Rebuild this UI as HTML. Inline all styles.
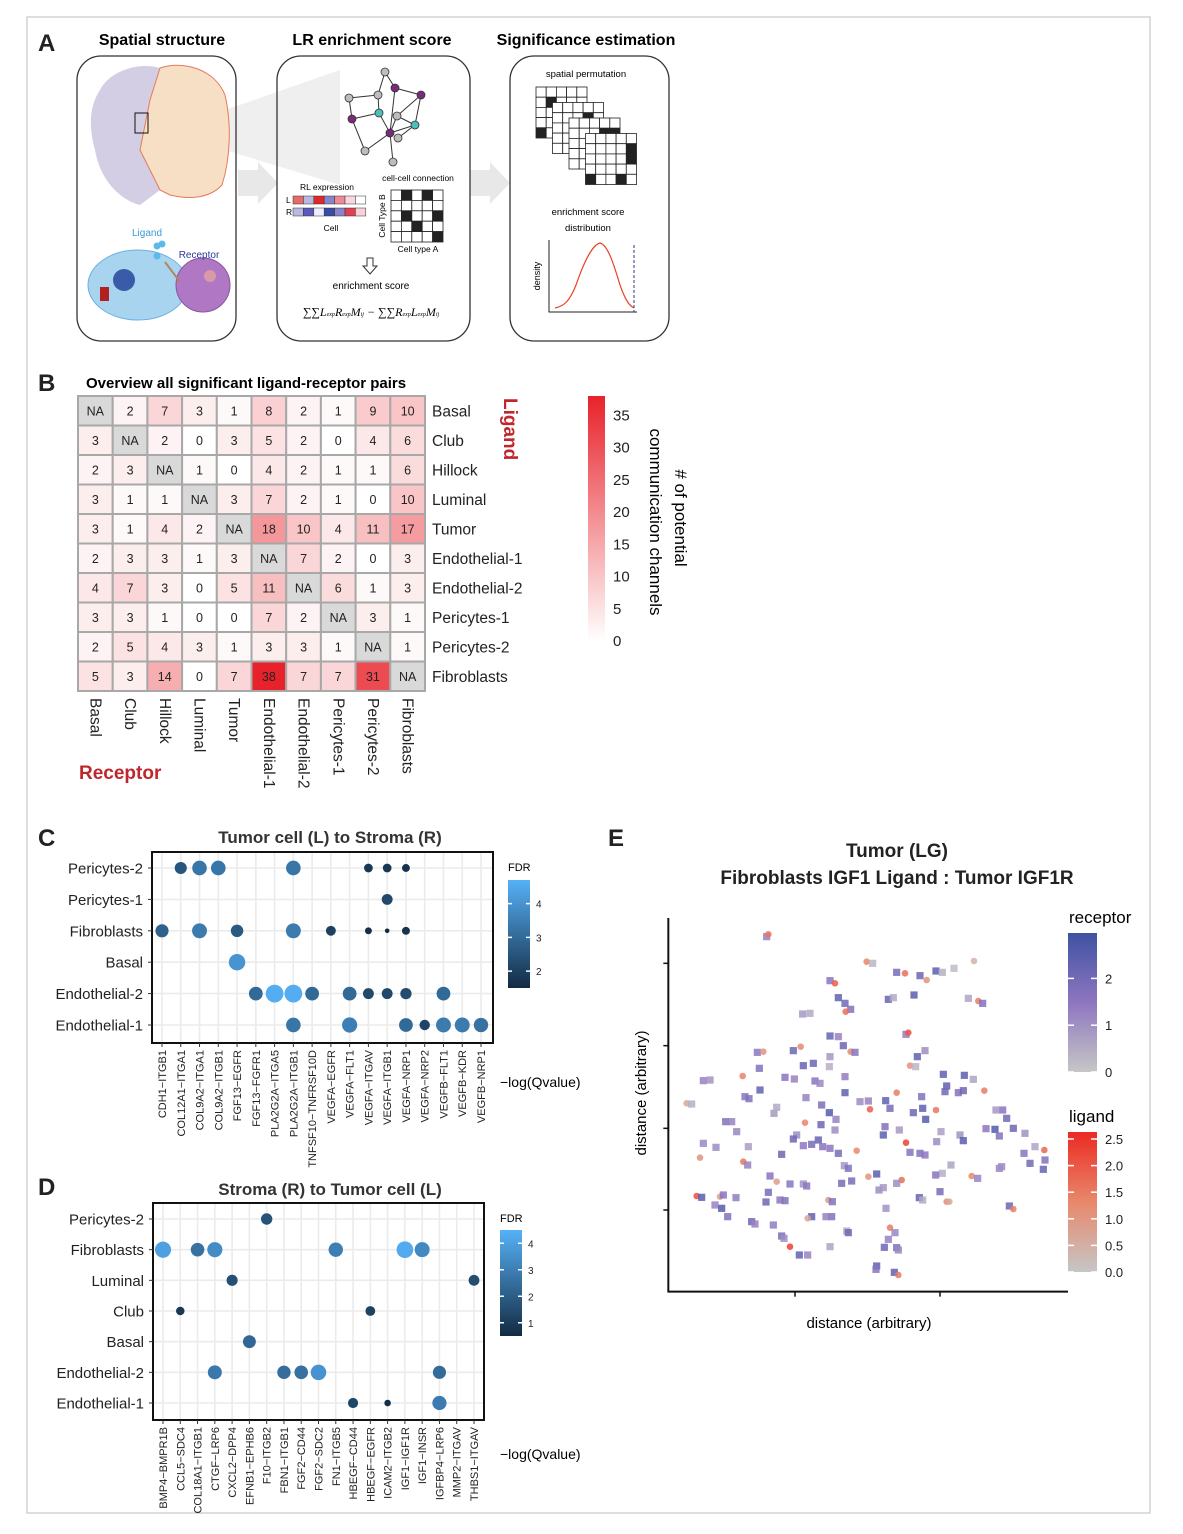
<!DOCTYPE html>
<html><head><meta charset="utf-8">
<style>
html,body{margin:0;padding:0;background:#fff;}
svg{display:block;font-family:"Liberation Sans",sans-serif;}
</style></head>
<body>
<svg id="fig" width="1183" height="1534" viewBox="0 0 1183 1534" xmlns="http://www.w3.org/2000/svg">
<defs>
<linearGradient id="heatGrad" x1="0" y1="1" x2="0" y2="0"><stop offset="0" stop-color="#ffffff"/><stop offset="1" stop-color="#e8222a"/></linearGradient>
<linearGradient id="fdrGrad" x1="0" y1="1" x2="0" y2="0"><stop offset="0" stop-color="#132b43"/><stop offset="1" stop-color="#56b1f7"/></linearGradient>
<linearGradient id="recGrad" x1="0" y1="1" x2="0" y2="0"><stop offset="0" stop-color="#c6c6c6"/><stop offset="0.5" stop-color="#8e76c0"/><stop offset="1" stop-color="#3e52a2"/></linearGradient>
<linearGradient id="ligGrad" x1="0" y1="1" x2="0" y2="0"><stop offset="0" stop-color="#c6c6c6"/><stop offset="0.5" stop-color="#e8886c"/><stop offset="1" stop-color="#ec2a22"/></linearGradient>
</defs>
<rect x="27" y="17" width="1123" height="1496" fill="none" stroke="#bdbdbd" stroke-width="1"/>

<!-- Panel A -->
<g>
<text x="38" y="51" font-size="24" font-weight="bold" fill="#222">A</text>
<text x="162" y="45" font-size="16" font-weight="bold" text-anchor="middle">Spatial structure</text>
<text x="372" y="45" font-size="16" font-weight="bold" text-anchor="middle">LR enrichment score</text>
<text x="586" y="45" font-size="16" font-weight="bold" text-anchor="middle">Significance estimation</text>
<polygon points="225,110 340,70 340,185 225,150" fill="#efefef"/>
<polygon points="238,170 258,170 258,162 278,183 258,204 258,196 238,196" fill="#e8e8e8"/>
<polygon points="470,170 490,170 490,162 510,183 490,204 490,196 470,196" fill="#e8e8e8"/>
<rect x="77" y="56" width="159" height="285" rx="24" fill="none" stroke="#333" stroke-width="1.3"/>
<rect x="277" y="56" width="193" height="285" rx="24" fill="none" stroke="#333" stroke-width="1.3"/>
<rect x="510" y="56" width="159" height="285" rx="24" fill="none" stroke="#333" stroke-width="1.3"/>
<path d="M100,90 C110,70 140,62 160,68 L150,100 L140,150 L160,190 L140,205 C120,200 100,180 95,150 C88,125 90,105 100,90 Z" fill="#c9c2dd" opacity="0.8"/>
<path d="M160,68 C185,60 215,70 225,95 C232,125 230,160 222,185 C210,198 190,200 170,195 L160,190 L140,150 L150,100 Z" fill="#f6dfc4" stroke="#e6795a" stroke-width="1"/>
<rect x="135" y="113" width="13" height="20" fill="none" stroke="#111" stroke-width="1"/>
<ellipse cx="138" cy="285" rx="50" ry="35" fill="#a8d4f0" stroke="#6ab0e0"/>
<circle cx="124" cy="280" r="11" fill="#3a5ba8"/>
<rect x="100" y="287" width="9" height="14" fill="#b32020"/>
<circle cx="157" cy="246" r="3.5" fill="#5bbbe8"/>
<circle cx="162" cy="244" r="3.5" fill="#5bbbe8"/>
<circle cx="157" cy="256" r="3.5" fill="#5bbbe8"/>
<circle cx="203" cy="285" r="27" fill="#b078c4" stroke="#8a559e"/>
<circle cx="210" cy="276" r="6" fill="#d89aa8"/>
<line x1="165" y1="262" x2="180" y2="282" stroke="#b08860" stroke-width="2"/>
<text x="147" y="236" font-size="10" fill="#3a9ad6" text-anchor="middle">Ligand</text>
<text x="199" y="258" font-size="10" fill="#2d3a98" text-anchor="middle">Receptor</text>
<g id="network"></g>
<text x="327" y="190" font-size="8.5" text-anchor="middle">RL expression</text>
<text x="286" y="203" font-size="8.5">L</text>
<text x="286" y="215" font-size="8.5">R</text>
<g id="rlbars"></g>
<text x="331" y="231" font-size="8.5" text-anchor="middle">Cell</text>
<text x="418" y="181" font-size="8.5" text-anchor="middle">cell-cell connection</text>
<text transform="translate(385,216) rotate(-90)" font-size="8.5" text-anchor="middle">Cell Type B</text>
<g id="conngrid"></g>
<text x="418" y="252" font-size="8.5" text-anchor="middle">Cell type A</text>
<path d="M367,258 L373,258 L373,266 L377,266 L370,274 L363,266 L367,266 Z" fill="#fff" stroke="#333"/>
<text x="371" y="289" font-size="10" text-anchor="middle">enrichment score</text>
<text x="371" y="316" font-size="12" font-family="Liberation Serif,serif" font-style="italic" text-anchor="middle">∑∑L<tspan font-size="6">exp</tspan>R<tspan font-size="6">exp</tspan>M<tspan font-size="6">ij</tspan> − ∑∑R<tspan font-size="6">exp</tspan>L<tspan font-size="6">exp</tspan>M<tspan font-size="6">ij</tspan></text>
<text x="586" y="77" font-size="9.5" text-anchor="middle">spatial permutation</text>
<g id="permgrids"></g>
<text x="588" y="215" font-size="9.5" text-anchor="middle">enrichment score</text>
<text x="588" y="231" font-size="9.5" text-anchor="middle">distribution</text>
<polyline points="549,240 549,312 637,312" fill="none" stroke="#222" stroke-width="1"/>
<text transform="translate(540,276) rotate(-90)" font-size="9" text-anchor="middle">density</text>
<path d="M555,308 C565,306 570,300 576,285 C584,262 592,245 600,243 C608,245 614,265 620,285 C626,302 630,306 634,308" fill="none" stroke="#e8442a" stroke-width="1.2"/>
<line x1="634" y1="245" x2="634" y2="312" stroke="#2d3a7a" stroke-dasharray="3,2"/>
</g>

<!-- Panel B -->
<g id="panelB">
<text x="38" y="391" font-size="24" font-weight="bold" fill="#222">B</text>
<text x="86" y="388" font-size="15" font-weight="bold">Overview all significant ligand-receptor pairs</text>
<text transform="translate(504,398) rotate(90)" font-size="19" font-weight="bold" fill="#c0272d">Ligand</text>
<text x="79" y="779" font-size="19" font-weight="bold" fill="#c0272d">Receptor</text>
<rect x="588" y="396" width="17" height="245" fill="url(#heatGrad)"/>
<g id="heatLegendTicks"></g>
<text transform="translate(675,518) rotate(90)" font-size="17" text-anchor="middle"># of potential</text>
<text transform="translate(650,522) rotate(90)" font-size="17" text-anchor="middle">communication channels</text>
</g>

<!-- Panel C -->
<g id="panelC">
<text x="38" y="846" font-size="24" font-weight="bold" fill="#222">C</text>
<text x="330" y="843" font-size="17" font-weight="bold" text-anchor="middle" fill="#333">Tumor cell (L) to Stroma (R)</text>
<text x="508" y="871" font-size="11">FDR</text>
<rect x="508" y="880" width="22" height="108" fill="url(#fdrGrad)"/>
<text x="500" y="1087" font-size="14">−log(Qvalue)</text>
</g>

<!-- Panel D -->
<g id="panelD">
<text x="38" y="1195" font-size="24" font-weight="bold" fill="#222">D</text>
<text x="330" y="1195" font-size="17" font-weight="bold" text-anchor="middle" fill="#333">Stroma (R) to Tumor cell (L)</text>
<text x="500" y="1222" font-size="11">FDR</text>
<rect x="500" y="1230" width="22" height="106" fill="url(#fdrGrad)"/>
<text x="500" y="1459" font-size="14">−log(Qvalue)</text>
</g>

<!-- Panel E -->
<g id="panelE">
<text x="608" y="846" font-size="24" font-weight="bold" fill="#222">E</text>
<text x="897" y="857" font-size="19" font-weight="bold" text-anchor="middle" fill="#222">Tumor (LG)</text>
<text x="897" y="884" font-size="19" font-weight="bold" text-anchor="middle" fill="#222">Fibroblasts IGF1 Ligand : Tumor IGF1R</text>
<text transform="translate(646,1093) rotate(-90)" font-size="15" text-anchor="middle">distance (arbitrary)</text>
<text x="869" y="1328" font-size="15" text-anchor="middle">distance (arbitrary)</text>
<text x="1069" y="923" font-size="17">receptor</text>
<rect x="1068" y="933" width="29" height="139" fill="url(#recGrad)"/>
<text x="1069" y="1122" font-size="17">ligand</text>
<rect x="1068" y="1132" width="29" height="140" fill="url(#ligGrad)"/>
</g>
</svg>

<script>
const NS = "http://www.w3.org/2000/svg";
function mk(tag, attrs, parent){const e=document.createElementNS(NS,tag);for(const k in attrs)e.setAttribute(k,attrs[k]);parent.appendChild(e);return e;}

/* ---------- Panel A decorative bits ---------- */
const netNodes=[[385,72,'g'],[378,95,'g'],[395,88,'p'],[421,95,'p'],[349,98,'g'],[397,116,'g'],[352,119,'p'],[379,113,'c'],[415,125,'c'],[398,138,'g'],[390,133,'p'],[365,151,'g'],[393,162,'g']];
const netEdges=[[0,1],[0,2],[1,4],[1,7],[2,3],[2,10],[3,8],[4,6],[6,7],[6,11],[7,10],[5,8],[5,10],[8,10],[10,11],[10,12],[9,8],[3,5]];
const net=document.getElementById('network');
netEdges.forEach(e=>{const l=mk('line',{x1:netNodes[e[0]][0],y1:netNodes[e[0]][1],x2:netNodes[e[1]][0],y2:netNodes[e[1]][1],stroke:'#333','stroke-width':1},net);

});
const nodeCol={g:'#bdbdbd',p:'#7a2a7a',c:'#4cc0bc'};
netNodes.forEach(n=>{const c=mk('circle',{cx:n[0],cy:n[1],r:4,fill:nodeCol[n[2]],stroke:'#333','stroke-width':0.8},net);

});
const lCols=['#e86a6a','#b8b8e0','#e02828','#8a84c8','#ee8a96','#f8d8dc','#fff'];
const rCols=['#b8b8e0','#5a5ab8','#eeeeff','#3a4aa8','#8a84c8','#e04050','#f8d0d8'];
const rl=document.getElementById('rlbars');
lCols.forEach((c,i)=>{const r=mk('rect',{x:293+i*10.4,y:196,width:10.4,height:8,fill:c,stroke:'#333','stroke-width':0.5},rl);

});
rCols.forEach((c,i)=>{const r=mk('rect',{x:293+i*10.4,y:208,width:10.4,height:8,fill:c,stroke:'#333','stroke-width':0.5},rl);

});
const connFill=[[0,1,0,1,0],[0,0,0,0,0],[0,1,0,0,1],[0,0,1,0,0],[0,0,0,0,1]];
const cg=document.getElementById('conngrid');
connFill.forEach((row,ri)=>row.forEach((v,ci)=>{const r=mk('rect',{x:391+ci*10.4,y:190+ri*10.4,width:10.4,height:10.4,fill:v?'#222':'#fff',stroke:'#222','stroke-width':0.8},cg);

}));
const permFills=[[[0,0,0,0,0],[0,1,0,0,0],[0,0,0,0,0],[0,0,0,0,0],[1,0,0,0,0]],[[0,0,0,0,0],[0,0,0,1,0],[0,0,0,0,0],[0,0,0,0,0],[0,0,0,0,0]],[[0,0,0,0,0],[0,0,0,1,1],[0,0,0,0,0],[0,0,0,0,0],[0,0,0,0,0]],[[0,0,0,0,0],[0,0,0,0,1],[0,0,0,0,1],[0,0,0,0,0],[1,0,0,1,0]]];
const pg=document.getElementById('permgrids');
permFills.forEach((g,gi)=>{const ox=536+gi*16.5, oy=87+gi*15.5;
g.forEach((row,ri)=>row.forEach((v,ci)=>{const r=mk('rect',{x:ox+ci*10.2,y:oy+ri*10.2,width:10.2,height:10.2,fill:v?'#222':'#fff',stroke:'#222','stroke-width':0.8},pg);

}));});

/* ---------- Panel B heatmap ---------- */
const hmRows=['Basal','Club','Hillock','Luminal','Tumor','Endothelial-1','Endothelial-2','Pericytes-1','Pericytes-2','Fibroblasts'];
const hmCols=['Basal','Club','Hillock','Luminal','Tumor','Endothelial-1','Endothelial-2','Pericytes-1','Pericytes-2','Fibroblasts'];
const hmValues=[
[null,2,7,3,1,8,2,1,9,10],
[3,null,2,0,3,5,2,0,4,6],
[2,3,null,1,0,4,2,1,1,6],
[3,1,1,null,3,7,2,1,0,10],
[3,1,4,2,null,18,10,4,11,17],
[2,3,3,1,3,null,7,2,0,3],
[4,7,3,0,5,11,null,6,1,3],
[3,3,1,0,0,7,2,null,3,1],
[2,5,4,3,1,3,3,1,null,1],
[5,3,14,0,7,38,7,7,31,null]];
const hmTicks=[0,5,10,15,20,25,30,35];
const hmMax=38;
const HX0=78,HX1=425,HY0=396,HY1=691;
const cw=(HX1-HX0)/hmCols.length, ch=(HY1-HY0)/hmRows.length;
function heatColor(v){const t=Math.min(1,v/hmMax);const r=Math.round(255+(232-255)*t),g=Math.round(255+(34-255)*t),b=Math.round(255+(42-255)*t);return `rgb(${r},${g},${b})`;}
const pB=document.getElementById('panelB');
hmValues.forEach((row,ri)=>row.forEach((v,ci)=>{
  const x=HX0+ci*cw,y=HY0+ri*ch;
  const r=mk('rect',{x:x,y:y,width:cw,height:ch,fill:v===null?'#d9d9d9':heatColor(v),stroke:'#a8a8a8','stroke-width':2},pB);
  
  
  const t=mk('text',{x:x+cw/2,y:y+ch/2+4.5,'font-size':12.5,'text-anchor':'middle',fill:'#222'},pB);
  t.textContent=v===null?'NA':String(v);
  
  
}));
hmRows.forEach((n,ri)=>{const t=mk('text',{x:432,y:HY0+ri*ch+ch/2+5.5,'font-size':15.5,fill:'#222'},pB);t.textContent=n;

});
hmCols.forEach((n,ci)=>{const t=mk('text',{transform:`translate(${HX0+ci*cw+cw/2-5},698) rotate(90)`,'font-size':15.5,fill:'#222'},pB);t.textContent=n;

});
const hlt=document.getElementById('heatLegendTicks');
hmTicks.forEach(v=>{const y=641-v/hmMax*245;const t=mk('text',{x:613,y:y+5,'font-size':15,fill:'#222'},hlt);t.textContent=v;

});

/* ---------- Dot plots C & D ---------- */
function fdrColor(v,lo,hi){const t=Math.max(0,Math.min(1,(v-lo)/(hi-lo)));const a=[19,43,67],b=[86,177,247];return `rgb(${Math.round(a[0]+(b[0]-a[0])*t)},${Math.round(a[1]+(b[1]-a[1])*t)},${Math.round(a[2]+(b[2]-a[2])*t)})`;}

const cRows=['Pericytes-2','Pericytes-1','Fibroblasts','Basal','Endothelial-2','Endothelial-1'];
const cCols=['CDH1−ITGB1','COL12A1−ITGA1','COL9A2−ITGA1','COL9A2−ITGB1','FGF13−EGFR','FGF13−FGFR1','PLA2G2A−ITGA5','PLA2G2A−ITGB1','TNFSF10−TNFRSF10D','VEGFA−EGFR','VEGFA−FLT1','VEGFA−ITGAV','VEGFA−ITGB1','VEGFA−NRP1','VEGFA−NRP2','VEGFB−FLT1','VEGFB−KDR','VEGFB−NRP1'];
const cDotRow=[0,0,0,0,0,0,0, 1, 2,2,2,2,2,2,2,2, 3, 4,4,4,4,4,4,4,4,4, 5,5,5,5,5,5,5];
const cDotCol=[1,2,3,7,11,12,13, 12, 0,2,4,7,9,11,12,13, 4, 5,6,7,8,10,11,12,13,15, 7,10,13,14,15,16,17];
const cDotVal=[2.5,3.3,3.3,3.3,1.8,1.8,1.7, 2.2, 2.8,3.4,2.6,3.4,2.0,1.6,1.5,1.7, 4.0, 3.0,4.6,4.6,3.0,3.0,2.2,2.2,2.3,3.0, 3.3,3.5,3.0,2.1,3.4,3.4,3.2];
const cTicks=[2,3,4];

const dRows=['Pericytes-2','Fibroblasts','Luminal','Club','Basal','Endothelial-2','Endothelial-1'];
const dCols=['BMP4−BMPR1B','CCL5−SDC4','COL18A1−ITGB1','CTGF−LRP6','CXCL2−DPP4','EFNB1−EPHB6','F10−ITGB2','FBN1−ITGB1','FGF2−CD44','FGF2−SDC2','FN1−ITGB5','HBEGF−CD44','HBEGF−EGFR','ICAM2−ITGB2','IGF1−IGF1R','IGF1−INSR','IGFBP4−LRP6','MMP2−ITGAV','THBS1−ITGAV'];
const dDotRow=[0, 1,1,1,1,1,1, 2,2, 3,3, 4, 5,5,5,5,5, 6,6,6];
const dDotCol=[6, 0,2,3,10,14,15, 4,18, 1,12, 5, 3,7,8,9,16, 11,13,16];
const dDotVal=[1.7, 4.0,2.6,3.4,3.0,4.3,3.3, 1.6,1.5, 0.9,1.2, 2.3, 2.8,2.5,2.6,3.6,2.4, 1.3,0.6,2.9];
const dTicks=[1,2,3,4];

function dotPlot(cfg){
  const g=document.getElementById(cfg.id);
  const {x0,x1,y0,y1,rows,cols,colFirst,colLast,rowFirst,rowLast}=cfg;
  const xs=i=>colFirst+(colLast-colFirst)*i/(cols.length-1);
  const ys=i=>rowFirst+(rowLast-rowFirst)*i/(rows.length-1);
  cols.forEach((c,i)=>{const l=mk('line',{x1:xs(i),x2:xs(i),y1:y0,y2:y1,stroke:'#ebebeb','stroke-width':1.6},g);
    
    });
  rows.forEach((r,i)=>{const l=mk('line',{x1:x0,x2:x1,y1:ys(i),y2:ys(i),stroke:'#ebebeb','stroke-width':1.6},g);
    
    });
  const fr=mk('rect',{x:x0,y:y0,width:x1-x0,height:y1-y0,fill:'none',stroke:'#111','stroke-width':2},g);
  
  
  rows.forEach((r,i)=>{const t=mk('text',{x:x0-9,y:ys(i)+5.5,'font-size':15,'text-anchor':'end',fill:'#222'},g);t.textContent=r;
    
    
    const tk=mk('line',{x1:x0-4,x2:x0,y1:ys(i),y2:ys(i),stroke:'#333'},g);
    
    });
  cols.forEach((c,i)=>{const t=mk('text',{transform:`translate(${xs(i)+4},${y1+7}) rotate(-90)`,'font-size':11,'text-anchor':'end',fill:'#222'},g);t.textContent=c;
    
    
    const tk=mk('line',{x1:xs(i),x2:xs(i),y1:y1,y2:y1+4,stroke:'#333'},g);
    
    });
  cfg.vals.forEach((v,k)=>{const r=cfg.rMin+(cfg.rMax-cfg.rMin)*Math.sqrt(Math.max(0,(v-cfg.lo)/(cfg.hi-cfg.lo)));
    const c=mk('circle',{cx:xs(cfg.dcol[k]),cy:ys(cfg.drow[k]),r:r,fill:fdrColor(v,cfg.lo,cfg.hi)},g);
    
    });
  cfg.ticks.forEach(v=>{const y=cfg.barY1-(v-cfg.lo)/(cfg.hi-cfg.lo)*(cfg.barY1-cfg.barY0);
    const t=mk('text',{x:cfg.barX+28,y:y+4,'font-size':10,fill:'#222'},g);t.textContent=v;
    
    
    const l1=mk('line',{x1:cfg.barX,x2:cfg.barX+4,y1:y,y2:y,stroke:'#fff','stroke-width':1.5},g);
    
    
    const l2=mk('line',{x1:cfg.barX+18,x2:cfg.barX+22,y1:y,y2:y,stroke:'#fff','stroke-width':1.5},g);
    
    });
}
dotPlot({id:'panelC',x0:152,x1:493,y0:852,y1:1043,rows:cRows,cols:cCols,colFirst:162,colLast:481,rowFirst:868,rowLast:1025,
  drow:cDotRow,dcol:cDotCol,vals:cDotVal,lo:1.5,hi:4.7,rMin:2.3,rMax:9,ticks:cTicks,barX:508,barY0:880,barY1:988});
dotPlot({id:'panelD',x0:153,x1:484,y0:1203,y1:1420,rows:dRows,cols:dCols,colFirst:163,colLast:474,rowFirst:1219,rowLast:1403,
  drow:dDotRow,dcol:dDotCol,vals:dDotVal,lo:0.5,hi:4.5,rMin:2.3,rMax:8.5,ticks:dTicks,barX:500,barY0:1230,barY1:1336});

/* ---------- Panel E scatter ---------- */
const eX=[410,415,710,728,800,825,870,890,918,937,972,1032,600,615,625,645,662,647,775,790,852,1015,1045,1058,518,540,600,625,640,662,675,828,835,862,885,840,857,490,512,382,400,520,550,600,598,388,338,220,240,465,493,555,570,645,645,940,1003,1030,950,945,985,1000,1063,170,185,345,357,390,528,575,598,618,690,715,720,767,780,800,875,878,850,887,918,432,440,287,305,320,525,573,615,500,490,520,545,565,578,600,760,765,808,828,840,870,885,920,933,990,1000,1068,1095,1108,1118,1130,1150,1185,1098,220,258,210,355,340,353,455,625,643,655,680,1182,1200,1215,1243,1240,1245,1108,1115,963,937,917,1025,1043,420,440,480,520,530,635,665,715,740,815,800,747,760,200,215,270,280,318,255,275,293,415,450,408,465,595,607,868,878,930,950,958,1138,1150,365,375,430,545,533,605,588,455,462,480,508,533,600,650,655,768,780,795,775,763,800,805,740,738,793,805];
const eY=[110,103,185,190,217,220,227,240,213,217,205,183,242,250,293,310,328,335,298,293,285,295,303,310,342,340,408,410,437,455,457,403,398,470,452,497,500,452,440,457,455,497,490,470,500,505,528,542,540,532,537,543,550,530,578,523,526,538,558,575,578,572,572,610,612,590,596,570,593,615,638,658,605,603,628,602,625,578,590,625,638,658,630,640,622,665,665,695,668,674,690,705,717,737,733,720,740,745,705,680,690,728,757,760,765,725,695,705,722,686,688,708,630,655,685,700,630,730,742,773,740,785,795,763,760,797,805,752,760,790,740,750,808,780,805,800,795,820,825,828,835,828,845,852,852,858,850,843,830,822,840,850,870,863,888,892,890,885,893,915,925,950,877,900,906,902,900,905,893,900,875,905,905,918,927,965,972,975,950,955,950,950,1008,1015,1040,1065,1065,1040,993,998,925,983,998,1018,1042,1043,1050,1098,1108,1117,1125];
const eType=['s','c','c','s','s','c','s','c','s','s','s','c','s','c','s','s','s','c','s','s','s','s','c','s','s','s','s','s','s','c','s','s','c','s','s','c','s','s','c','s','c','s','s','s','s','s','c','s','s','s','s','s','s','s','s','s','s','s','s','s','s','s','c','c','s','s','s','s','s','s','s','s','s','s','c','s','s','c','s','s','s','s','c','s','s','s','s','s','c','s','s','s','s','s','s','s','s','s','s','s','s','c','s','s','s','s','s','s','s','s','s','s','s','s','s','s','s','s','s','c','s','c','s','s','s','s','s','c','s','s','s','c','s','s','s','s','s','s','s','c','s','s','c','s','s','s','s','s','c','s','c','s','s','s','c','s','c','s','s','s','s','s','s','s','s','s','c','s','s','s','s','c','c','s','c','s','s','s','s','c','s','s','s','s','c','s','s','s','s','s','s','c','s','s','s','s','s','s','s','s','c','s','c','s'];
const eVal=[1.2,1.5,1.3,0.3,1.8,1.6,2.0,1.0,2.3,0.4,0.2,0.4,1.5,1.8,2.2,1.9,1.6,1.6,2.1,0.5,2.3,0.6,1.4,1.6,0.8,0.5,2.1,1.2,2.0,1.2,1.5,1.3,1.9,2.2,1.0,1.0,0.3,2.0,1.2,1.4,1.0,2.1,2.0,0.8,0.4,1.6,1.3,1.2,0.9,1.5,1.2,1.5,1.1,1.3,2.2,2.2,2.3,0.6,2.2,1.9,1.6,2.0,1.4,0.6,0.4,1.5,1.6,2.2,1.2,1.7,2.4,1.2,1.0,1.2,1.8,2.2,1.8,1.4,1.6,2.2,2.0,2.4,1.5,0.8,0.5,1.6,1.2,1.1,1.3,2.0,1.0,1.0,2.0,1.4,1.8,2.1,1.5,1.4,2.3,1.6,0.8,2.2,1.5,1.6,1.4,1.0,0.7,0.9,2.3,1.4,2.5,1.6,1.5,1.9,2.0,0.9,0.8,1.1,1.0,1.0,0.7,1.5,1.2,2.0,1.8,0.8,1.6,1.2,1.5,1.9,0.6,1.7,2.1,1.6,1.1,1.0,0.6,0.4,1.5,1.2,1.2,1.5,0.8,1.5,0.9,1.4,1.8,1.8,1.0,2.3,1.6,1.0,1.0,0.8,2.0,2.3,0.7,1.5,1.3,1.2,2.4,1.6,1.8,1.4,2.0,1.6,0.8,1.6,2.2,0.5,1.8,1.2,0.6,2.0,1.4,2.0,1.2,1.3,2.2,0.6,1.6,1.2,1.8,1.0,2.2,2.2,1.2,0.6,0.4,2.0,0.9,1.4,1.1,1.2,2.0,1.7,1.1,2.2,1.5,2.2,1.4,1.8,1.2,2.0,1.4,1.8,2.1,1.2,1.0,1.6];
const eXTicks=[495,930];
const eYTicks=[190,437,685,930];
const ex=v=>630+v/3, ey=v=>900+v/3;
function recColor(v){const t=Math.min(1,v/2.8);const a=t<0.5?[[198,198,198],[142,118,192],t/0.5]:[[142,118,192],[62,82,162],(t-0.5)/0.5];const m=i=>Math.round(a[0][i]+(a[1][i]-a[0][i])*a[2]);return `rgb(${m(0)},${m(1)},${m(2)})`;}
function ligColor(v){const t=Math.min(1,v/2.5);const a=t<0.5?[[198,198,198],[232,136,108],t/0.5]:[[232,136,108],[236,42,34],(t-0.5)/0.5];const m=i=>Math.round(a[0][i]+(a[1][i]-a[0][i])*a[2]);return `rgb(${m(0)},${m(1)},${m(2)})`;}
const pE=document.getElementById('panelE');
eX.forEach((x,i)=>{
  if(eType[i]==='c'){const c=mk('circle',{cx:ex(x),cy:ey(eY[i]),r:3.3,fill:ligColor(eVal[i]),opacity:0.85},pE);
    
    }
  else{const r=mk('rect',{x:ex(x)-3.6,y:ey(eY[i])-3.6,width:7.2,height:7.2,fill:recColor(eVal[i]),opacity:0.85},pE);
    
    }
});
const ax=mk('polyline',{points:`${ex(115)},918 ${ex(115)},${ey(1175)} 1068,${ey(1175)}`,fill:'none',stroke:'#111','stroke-width':2},pE);


eXTicks.forEach(v=>{const l=mk('line',{x1:ex(v),x2:ex(v),y1:ey(1175),y2:ey(1175)+5,stroke:'#111','stroke-width':1.5},pE);
  
  });
eYTicks.forEach(v=>{const l=mk('line',{x1:ex(115)-5,x2:ex(115),y1:ey(v),y2:ey(v),stroke:'#111','stroke-width':1.5},pE);
  
  });
const recTicks=[0,1,2];
const ligTicks=[0,0.5,1,1.5,2,2.5];
recTicks.forEach(v=>{const y=1072-v/2.97*139;
  const t=mk('text',{x:1105,y:y+5,'font-size':13,fill:'#222'},pE);t.textContent=v;
  
  
  const l=mk('line',{x1:1068,x2:1074,y1:y,y2:y,stroke:'#fff','stroke-width':1.5},pE);
  
  
  const l2=mk('line',{x1:1091,x2:1097,y1:y,y2:y,stroke:'#fff','stroke-width':1.5},pE);
  
  });
ligTicks.forEach(v=>{const y=1272-v/2.5*133;
  const t=mk('text',{x:1105,y:y+5,'font-size':13,fill:'#222'},pE);t.textContent=v.toFixed(1);
  
  
  const l=mk('line',{x1:1068,x2:1074,y1:y,y2:y,stroke:'#fff','stroke-width':1.5},pE);
  
  
  const l2=mk('line',{x1:1091,x2:1097,y1:y,y2:y,stroke:'#fff','stroke-width':1.5},pE);
  
  });
</script>
</body></html>
